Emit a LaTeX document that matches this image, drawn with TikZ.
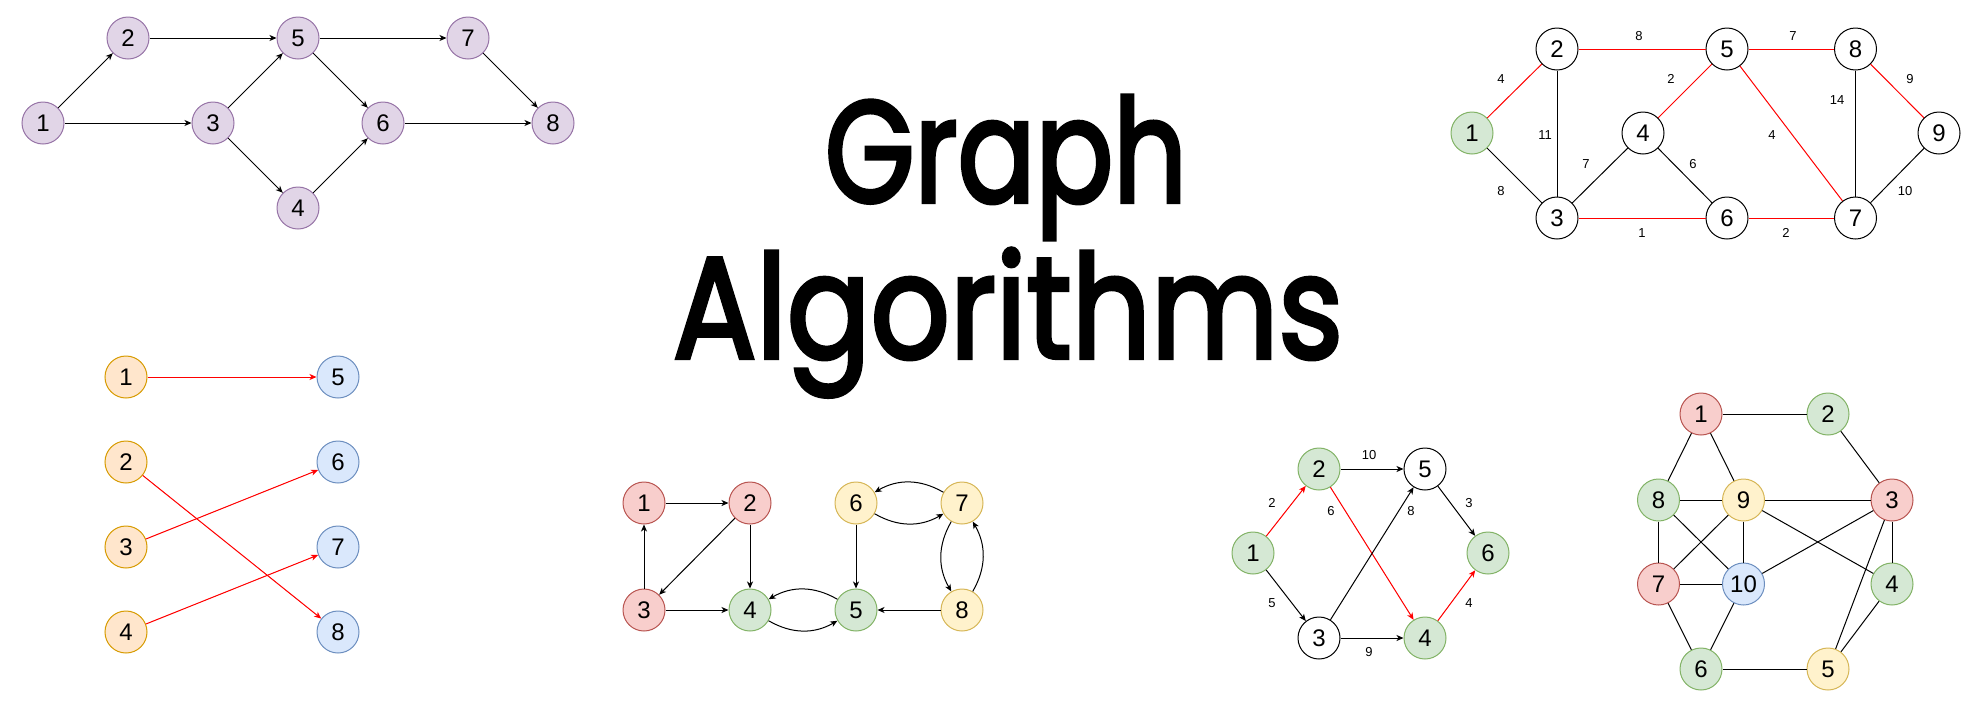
\documentclass[tikz,border=0pt]{standalone}
\usepackage{fontspec}
\usepackage{graphicx}
\setmainfont{Liberation Sans}
\newfontfamily\titlefont{Poppins}[FakeBold=3]
\usetikzlibrary{arrows.meta}
\definecolor{gr_purple}{RGB}{225, 213, 231}
\definecolor{gr_purple_d}{RGB}{150, 115, 166}
\definecolor{gr_green}{RGB}{213, 232, 212}
\definecolor{gr_green_d}{RGB}{130, 179, 102}
\definecolor{gr_red}{RGB}{248, 206, 204}
\definecolor{gr_red_d}{RGB}{184, 84, 80}
\definecolor{gr_orange}{RGB}{255, 230, 204}
\definecolor{gr_orange_d}{RGB}{215, 155, 0}
\definecolor{gr_blue}{RGB}{218, 232, 252}
\definecolor{gr_blue_d}{RGB}{108, 142, 191}
\definecolor{gr_yellow}{RGB}{255, 242, 204}
\definecolor{gr_yellow_d}{RGB}{214, 182, 86}
\definecolor{gr_line}{RGB}{255, 0, 0}
\tikzstyle{vx}=[circle,line width=1pt,inner sep=0pt,minimum size=42pt,
  font=\fontsize{24}{24}\selectfont]
\tikzstyle{pn}=[vx,fill=gr_purple,draw=gr_purple_d]
\tikzstyle{gn}=[vx,fill=gr_green,draw=gr_green_d]
\tikzstyle{rn}=[vx,fill=gr_red,draw=gr_red_d]
\tikzstyle{on}=[vx,fill=gr_orange,draw=gr_orange_d]
\tikzstyle{bn}=[vx,fill=gr_blue,draw=gr_blue_d]
\tikzstyle{yn}=[vx,fill=gr_yellow,draw=gr_yellow_d]
\tikzstyle{wn}=[vx,fill=white,draw=black]
\tikzstyle{wt}=[inner sep=0pt,font=\fontsize{13}{13}\selectfont]
\tikzstyle{title}=[anchor=base,inner sep=0pt,font=\titlefont\fontsize{144}{144}\selectfont]
\tikzstyle{ln}=[line width=1pt]
\tikzstyle{rln}=[line width=1pt,draw=gr_line]
\tikzstyle{arc}=[line width=1pt,-{Stealth[length=7pt,width=6pt,inset=2pt]}]
\tikzstyle{rarc}=[arc,draw=gr_line,fill=gr_line]

\begin{document}
\begin{tikzpicture}[x=1pt, y=-1pt]
    \useasboundingbox (0, 0) rectangle (1984, 713);
    \node [style=title] (graph) at (1006, 202) {\scalebox{0.80}[1]{Graph}};
    \node [style=title] (algo) at (1008, 358) {\scalebox{0.86}[1]{Algorithms}};

    \node [style=pn] (p1) at (43, 123) {1};
    \node [style=pn] (p2) at (128, 38) {2};
    \node [style=pn] (p3) at (213, 123) {3};
    \node [style=pn] (p4) at (298, 208) {4};
    \node [style=pn] (p5) at (298, 38) {5};
    \node [style=pn] (p6) at (383, 123) {6};
    \node [style=pn] (p7) at (468, 38) {7};
    \node [style=pn] (p8) at (553, 123) {8};
    \draw [style=arc] (p1) to (p2);
    \draw [style=arc] (p1) to (p3);
    \draw [style=arc] (p2) to (p5);
    \draw [style=arc] (p3) to (p5);
    \draw [style=arc] (p3) to (p4);
    \draw [style=arc] (p5) to (p7);
    \draw [style=arc] (p5) to (p6);
    \draw [style=arc] (p4) to (p6);
    \draw [style=arc] (p6) to (p8);
    \draw [style=arc] (p7) to (p8);

    \node [style=gn] (m1) at (1472, 133) {1};
    \node [style=wn] (m2) at (1557, 49) {2};
    \node [style=wn] (m3) at (1557, 218) {3};
    \node [style=wn] (m4) at (1643, 133) {4};
    \node [style=wn] (m5) at (1727, 49) {5};
    \node [style=wn] (m6) at (1727, 218) {6};
    \node [style=wn] (m7) at (1855.5, 218) {7};
    \node [style=wn] (m8) at (1855.5, 49) {8};
    \node [style=wn] (m9) at (1939, 133) {9};
    \draw [style=rln] (m1) to (m2);
    \draw [style=ln] (m1) to (m3);
    \draw [style=ln] (m2) to (m3);
    \draw [style=rln] (m2) to (m5);
    \draw [style=ln] (m3) to (m4);
    \draw [style=rln] (m3) to (m6);
    \draw [style=rln] (m4) to (m5);
    \draw [style=ln] (m4) to (m6);
    \draw [style=rln] (m5) to (m8);
    \draw [style=rln] (m5) to (m7);
    \draw [style=rln] (m6) to (m7);
    \draw [style=ln] (m8) to (m7);
    \draw [style=rln] (m8) to (m9);
    \draw [style=ln] (m9) to (m7);
    \node [style=wt] (w25) at (1639, 36) {8};
    \node [style=wt] (w58) at (1793, 36) {7};
    \node [style=wt] (w12) at (1501, 79) {4};
    \node [style=wt] (w45) at (1671, 79) {2};
    \node [style=wt] (w89) at (1910, 79) {9};
    \node [style=wt] (w87) at (1837, 100) {14};
    \node [style=wt] (w23) at (1545, 135) {11};
    \node [style=wt] (w57) at (1772, 135) {4};
    \node [style=wt] (w34) at (1586, 164) {7};
    \node [style=wt] (w46) at (1693, 164) {6};
    \node [style=wt] (w13) at (1501, 191) {8};
    \node [style=wt] (w97) at (1905, 191) {10};
    \node [style=wt] (w36) at (1642, 233) {1};
    \node [style=wt] (w67) at (1786, 233) {2};

    \node [style=on] (b1) at (126, 377) {1};
    \node [style=on] (b2) at (126, 462) {2};
    \node [style=on] (b3) at (126, 547) {3};
    \node [style=on] (b4) at (126, 632) {4};
    \node [style=bn] (b5) at (338, 377) {5};
    \node [style=bn] (b6) at (338, 462) {6};
    \node [style=bn] (b7) at (338, 547) {7};
    \node [style=bn] (b8) at (338, 632) {8};
    \draw [style=rarc] (b1) to (b5);
    \draw [style=rarc] (b2) to (b8);
    \draw [style=rarc] (b3) to (b6);
    \draw [style=rarc] (b4) to (b7);

    \node [style=rn] (s1) at (644, 503) {1};
    \node [style=rn] (s2) at (750, 503) {2};
    \node [style=rn] (s3) at (644, 610) {3};
    \node [style=gn] (s4) at (750, 610) {4};
    \node [style=gn] (s5) at (856, 610) {5};
    \node [style=yn] (s6) at (856, 503) {6};
    \node [style=yn] (s7) at (962, 503) {7};
    \node [style=yn] (s8) at (962, 610) {8};
    \draw [style=arc] (s1) to (s2);
    \draw [style=arc] (s2) to (s3);
    \draw [style=arc] (s2) to (s4);
    \draw [style=arc] (s3) to (s1);
    \draw [style=arc] (s3) to (s4);
    \draw [style=arc, bend right=30] (s4) to (s5);
    \draw [style=arc, bend right=30] (s5) to (s4);
    \draw [style=arc] (s6) to (s5);
    \draw [style=arc, bend right=30] (s6) to (s7);
    \draw [style=arc, bend right=30] (s7) to (s6);
    \draw [style=arc, bend right=30] (s7) to (s8);
    \draw [style=arc, bend right=30] (s8) to (s7);
    \draw [style=arc] (s8) to (s5);

    \node [style=gn] (d1) at (1253, 553) {1};
    \node [style=gn] (d2) at (1319, 469) {2};
    \node [style=wn] (d3) at (1319, 638) {3};
    \node [style=gn] (d4) at (1425, 638) {4};
    \node [style=wn] (d5) at (1425, 469) {5};
    \node [style=gn] (d6) at (1488, 553) {6};
    \draw [style=rarc] (d1) to (d2);
    \draw [style=arc] (d1) to (d3);
    \draw [style=arc] (d2) to (d5);
    \draw [style=rarc] (d2) to (d4);
    \draw [style=arc] (d3) to (d5);
    \draw [style=arc] (d3) to (d4);
    \draw [style=arc] (d5) to (d6);
    \draw [style=rarc] (d4) to (d6);
    \node [style=wt] (e12) at (1272, 503) {2};
    \node [style=wt] (e13) at (1272, 603) {5};
    \node [style=wt] (e25) at (1369, 455) {10};
    \node [style=wt] (e24) at (1331, 511) {6};
    \node [style=wt] (e35) at (1411, 511) {8};
    \node [style=wt] (e34) at (1369, 652) {9};
    \node [style=wt] (e56) at (1469, 503) {3};
    \node [style=wt] (e46) at (1469, 603) {4};

    \node [style=rn] (c1) at (1701, 414) {1};
    \node [style=gn] (c2) at (1828, 414) {2};
    \node [style=rn] (c3) at (1892, 500) {3};
    \node [style=gn] (c4) at (1892, 584) {4};
    \node [style=yn] (c5) at (1828, 669) {5};
    \node [style=gn] (c6) at (1701, 669) {6};
    \node [style=rn] (c7) at (1658.5, 584) {7};
    \node [style=gn] (c8) at (1658.5, 500) {8};
    \node [style=yn] (c9) at (1743.5, 500) {9};
    \node [style=bn] (c10) at (1743.5, 584) {10};
    \draw [style=ln] (c1) to (c2);
    \draw [style=ln] (c1) to (c8);
    \draw [style=ln] (c1) to (c9);
    \draw [style=ln] (c2) to (c3);
    \draw [style=ln] (c8) to (c9);
    \draw [style=ln] (c9) to (c3);
    \draw [style=ln] (c8) to (c7);
    \draw [style=ln] (c8) to (c10);
    \draw [style=ln] (c9) to (c7);
    \draw [style=ln] (c9) to (c10);
    \draw [style=ln] (c9) to (c4);
    \draw [style=ln] (c3) to (c10);
    \draw [style=ln] (c3) to (c4);
    \draw [style=ln] (c3) to (c5);
    \draw [style=ln] (c7) to (c10);
    \draw [style=ln] (c7) to (c6);
    \draw [style=ln] (c10) to (c6);
    \draw [style=ln] (c6) to (c5);
    \draw [style=ln] (c4) to (c5);
\end{tikzpicture}
\end{document}
